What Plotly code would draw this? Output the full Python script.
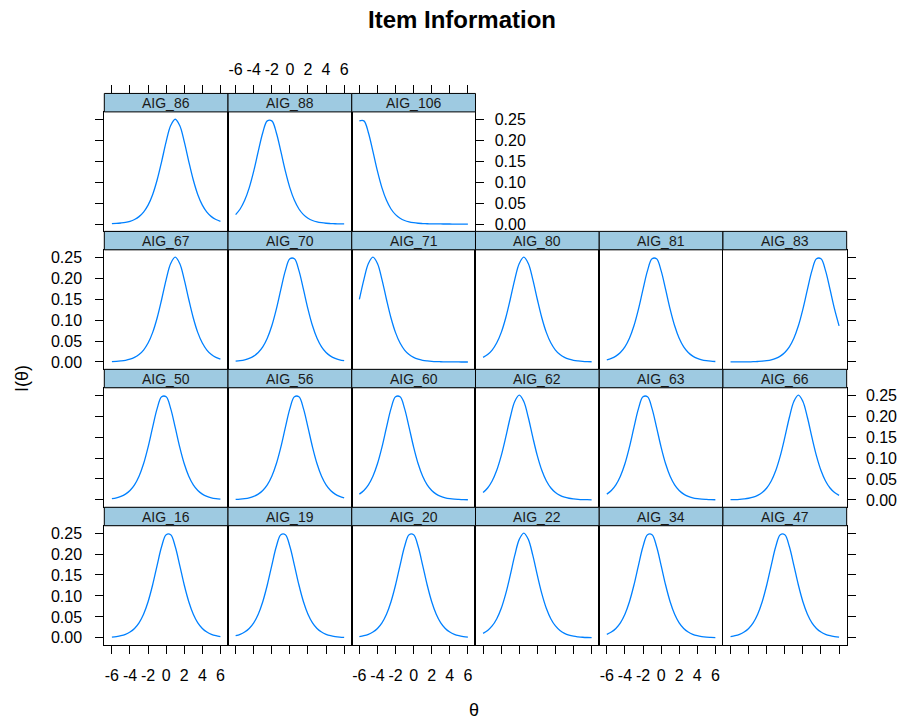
import plotly.graph_objects as go

# ---------------- data ----------------
theta = [-6, -5.5, -5, -4.5, -4, -3.5, -3, -2.5, -2, -1.5, -1, -0.5, 0,
         0.5, 1, 1.5, 2, 2.5, 3, 3.5, 4, 4.5, 5, 5.5, 6]

x_ticks = [-6, -4, -2, 0, 2, 4, 6]
y_ticks = [0.00, 0.05, 0.10, 0.15, 0.20, 0.25]

# item order as laid out (bottom row first, left to right)
items = ["AIG_16", "AIG_19", "AIG_20", "AIG_22", "AIG_34", "AIG_47",
         "AIG_50", "AIG_56", "AIG_60", "AIG_62", "AIG_63", "AIG_66",
         "AIG_67", "AIG_70", "AIG_71", "AIG_80", "AIG_81", "AIG_83",
         "AIG_86", "AIG_88", "AIG_106"]

info_16 = [.0019, .0032, .0052, .0085, .0139, .0225, .0359, .0565, .0863, .1261, .1731, .2179, .2461,
           .2461, .2179, .1731, .1261, .0863, .0565, .0359, .0225, .0139, .0085, .0052, .0032]
info_19 = [.0052, .0085, .0139, .0225, .0359, .0565, .0863, .1261, .1731, .2179, .2461, .2461, .2179,
           .1731, .1261, .0863, .0565, .0359, .0225, .0139, .0085, .0052, .0032, .0019, .0012]
info_20 = [.0032, .0052, .0085, .0139, .0225, .0359, .0565, .0863, .1261, .1731, .2179, .2461, .2461,
           .2179, .1731, .1261, .0863, .0565, .0359, .0225, .0139, .0085, .0052, .0032, .0019]
info_22 = [.0109, .0177, .0285, .0452, .0701, .1050, .1491, .1966, .2350, .2500, .2350, .1966, .1491,
           .1050, .0701, .0452, .0285, .0177, .0109, .0066, .0040, .0025, .0015, .0009, .0006]
info_34 = [.0085, .0139, .0225, .0359, .0565, .0863, .1261, .1731, .2179, .2461, .2461, .2179, .1731,
           .1261, .0863, .0565, .0359, .0225, .0139, .0085, .0052, .0032, .0019, .0012, .0007]
info_47 = [.0032, .0052, .0085, .0139, .0225, .0359, .0565, .0863, .1261, .1731, .2179, .2461, .2461,
           .2179, .1731, .1261, .0863, .0565, .0359, .0225, .0139, .0085, .0052, .0032, .0019]
info_50 = [.0032, .0052, .0085, .0139, .0225, .0359, .0565, .0863, .1261, .1731, .2179, .2461, .2461,
           .2179, .1731, .1261, .0863, .0565, .0359, .0225, .0139, .0085, .0052, .0032, .0019]
info_56 = [.0012, .0019, .0032, .0052, .0085, .0139, .0225, .0359, .0565, .0863, .1261, .1731, .2179,
           .2461, .2461, .2179, .1731, .1261, .0863, .0565, .0359, .0225, .0139, .0085, .0052]
info_60 = [.0139, .0225, .0359, .0565, .0863, .1261, .1731, .2179, .2461, .2461, .2179, .1731, .1261,
           .0863, .0565, .0359, .0225, .0139, .0085, .0052, .0032, .0019, .0012, .0007, .0004]
info_62 = [.0177, .0285, .0452, .0701, .1050, .1491, .1966, .2350, .2500, .2350, .1966, .1491, .1050,
           .0701, .0452, .0285, .0177, .0109, .0066, .0040, .0025, .0015, .0009, .0006, .0003]
info_63 = [.0139, .0225, .0359, .0565, .0863, .1261, .1731, .2179, .2461, .2461, .2179, .1731, .1261,
           .0863, .0565, .0359, .0225, .0139, .0085, .0052, .0032, .0019, .0012, .0007, .0004]
info_66 = [.0006, .0009, .0015, .0025, .0040, .0066, .0109, .0177, .0285, .0452, .0701, .1050, .1491,
           .1966, .2350, .2500, .2350, .1966, .1491, .1050, .0701, .0452, .0285, .0177, .0109]
info_67 = [.0009, .0015, .0025, .0040, .0066, .0109, .0177, .0285, .0452, .0701, .1050, .1491, .1966,
           .2350, .2500, .2350, .1966, .1491, .1050, .0701, .0452, .0285, .0177, .0109, .0066]
info_70 = [.0019, .0032, .0052, .0085, .0139, .0225, .0359, .0565, .0863, .1261, .1731, .2179, .2461,
           .2461, .2179, .1731, .1261, .0863, .0565, .0359, .0225, .0139, .0085, .0052, .0032]
info_71 = [.1491, .1966, .2350, .2500, .2350, .1966, .1491, .1050, .0701, .0452, .0285, .0177, .0109,
           .0066, .0040, .0025, .0015, .0009, .0006, .0003, .0002, .0001, .0001, .0000, .0000]
info_80 = [.0109, .0177, .0285, .0452, .0701, .1050, .1491, .1966, .2350, .2500, .2350, .1966, .1491,
           .1050, .0701, .0452, .0285, .0177, .0109, .0066, .0040, .0025, .0015, .0009, .0006]
info_81 = [.0052, .0085, .0139, .0225, .0359, .0565, .0863, .1261, .1731, .2179, .2461, .2461, .2179,
           .1731, .1261, .0863, .0565, .0359, .0225, .0139, .0085, .0052, .0032, .0019, .0012]
info_83 = [.0001, .0001, .0002, .0003, .0004, .0007, .0012, .0019, .0032, .0052, .0085, .0139, .0225,
           .0359, .0565, .0863, .1261, .1731, .2179, .2461, .2461, .2179, .1731, .1261, .0863]
info_86 = [.0009, .0015, .0025, .0040, .0066, .0109, .0177, .0285, .0452, .0701, .1050, .1491, .1966,
           .2350, .2500, .2350, .1966, .1491, .1050, .0701, .0452, .0285, .0177, .0109, .0066]
info_88 = [.0225, .0359, .0565, .0863, .1261, .1731, .2179, .2461, .2461, .2179, .1731, .1261, .0863,
           .0565, .0359, .0225, .0139, .0085, .0052, .0032, .0019, .0012, .0007, .0004, .0003]
info_106 = [.2461, .2461, .2179, .1731, .1261, .0863, .0565, .0359, .0225, .0139, .0085, .0052, .0032,
            .0019, .0012, .0007, .0004, .0003, .0002, .0001, .0001, .0000, .0000, .0000, .0000]

info = {
    "AIG_16": info_16, "AIG_19": info_19, "AIG_20": info_20, "AIG_22": info_22,
    "AIG_34": info_34, "AIG_47": info_47, "AIG_50": info_50, "AIG_56": info_56,
    "AIG_60": info_60, "AIG_62": info_62, "AIG_63": info_63, "AIG_66": info_66,
    "AIG_67": info_67, "AIG_70": info_70, "AIG_71": info_71, "AIG_80": info_80,
    "AIG_81": info_81, "AIG_83": info_83, "AIG_86": info_86, "AIG_88": info_88,
    "AIG_106": info_106,
}

# ---------------- layout geometry (pixels) ----------------
W, H = 903, 720
X0, COLW = 104.3, 123.73
Y0, ROWH, STRIPH = 92.7, 138.33, 18.5
NROWS, NCOLS = 4, 6
XR = [-6.84, 6.84]
YR = [-0.0175, 0.2675]
FONT = "Liberation Sans, Arial, sans-serif"
TICKFONT = dict(family=FONT, size=16, color="black")
LINECOL = "#0080FF"
STRIPCOL = "#9ECAE1"


def fx(p):
    return p / W


def fy(p):
    return 1 - p / H


fig = go.Figure()
layout = {}
shapes = []
annotations = []

n = len(items)
extra = n
for k, name in enumerate(items):
    r = k // NCOLS + 1          # 1 = bottom row
    c = k % NCOLS + 1
    i = k + 1
    xl = X0 + (c - 1) * COLW
    xr = xl + COLW
    top = Y0 + (NROWS - r) * ROWH
    ptop = top + STRIPH
    pbot = top + ROWH

    xa = dict(domain=[fx(xl), fx(xr)], range=XR, anchor=f"y{i}",
              showline=True, mirror=True, linecolor="black", linewidth=1,
              showgrid=False, zeroline=False, ticks="", showticklabels=False,
              fixedrange=True)
    ya = dict(domain=[fy(pbot), fy(ptop)], range=YR, anchor=f"x{i}",
              showline=True, mirror=True, linecolor="black", linewidth=1,
              showgrid=False, zeroline=False, ticks="", showticklabels=False,
              fixedrange=True)

    if r == 1:
        xa.update(ticks="outside", ticklen=8, tickwidth=1, tickcolor="black",
                  tickmode="array", tickvals=x_ticks,
                  ticktext=[str(v) for v in x_ticks],
                  showticklabels=(c % 2 == 1), tickangle=0,
                  tickfont=TICKFONT, ticklabelstandoff=8)
    is_left = (c == 1)
    is_right = (c == NCOLS) or (k == n - 1)
    if is_left:
        ya.update(side="left", ticks="outside", ticklen=8, tickwidth=1,
                  tickcolor="black", tickmode="array", tickvals=y_ticks,
                  ticktext=[f"{v:.2f}" for v in y_ticks],
                  showticklabels=(r % 2 == 1), tickfont=TICKFONT,
                  ticklabelstandoff=10)
    if is_right:
        ya.update(side="right", ticks="outside", ticklen=8, tickwidth=1,
                  tickcolor="black", tickmode="array", tickvals=y_ticks,
                  ticktext=[f"{v:.2f}" for v in y_ticks],
                  showticklabels=(r % 2 == 0), tickfont=TICKFONT,
                  ticklabelstandoff=7)

    layout[f"xaxis{i}"] = xa
    layout[f"yaxis{i}"] = ya

    fig.add_trace(go.Scatter(x=theta, y=info[name], mode="lines",
                             line=dict(color=LINECOL, width=1.3, shape="spline"),
                             xaxis=f"x{i}", yaxis=f"y{i}", showlegend=False,
                             hoverinfo="skip"))

    # top axis (above the strip) for the top row
    if r == NROWS:
        extra += 1
        layout[f"xaxis{extra}"] = dict(
            domain=[fx(xl), fx(xr)], range=XR, overlaying=f"x{i}",
            anchor="free", position=fy(top), side="top", showline=False,
            showgrid=False, zeroline=False, ticks="outside", ticklen=8,
            tickwidth=1, tickcolor="black", tickmode="array",
            tickvals=x_ticks, ticktext=[str(v) for v in x_ticks],
            showticklabels=(c % 2 == 0), tickangle=0, tickfont=TICKFONT,
            ticklabelstandoff=4, fixedrange=True)
        fig.add_trace(go.Scatter(x=[None], y=[None], mode="lines",
                                 xaxis=f"x{extra}", yaxis=f"y{i}",
                                 showlegend=False, hoverinfo="skip"))

    # strip
    shapes.append(dict(type="rect", xref="paper", yref="paper",
                       x0=fx(xl), x1=fx(xr), y0=fy(ptop), y1=fy(top),
                       fillcolor=STRIPCOL, line=dict(color="black", width=1),
                       layer="above"))
    annotations.append(dict(text=name, xref="paper", yref="paper",
                            x=fx((xl + xr) / 2), y=fy(top + STRIPH / 2),
                            xanchor="center", yanchor="middle", showarrow=False,
                            font=dict(family=FONT, size=14, color="#1a1a1a")))

annotations.append(dict(text="<b>Item Information</b>", xref="paper", yref="paper",
                        x=fx(462), y=fy(19), xanchor="center", yanchor="middle",
                        showarrow=False, font=dict(family=FONT, size=24, color="black")))
annotations.append(dict(text="θ", xref="paper", yref="paper",
                        x=fx(474), y=fy(711), xanchor="center", yanchor="middle",
                        showarrow=False, font=dict(family=FONT, size=18, color="black")))
annotations.append(dict(text="I(θ)", xref="paper", yref="paper",
                        x=fx(22), y=fy(379), xanchor="center", yanchor="middle",
                        textangle=-90, showarrow=False,
                        font=dict(family=FONT, size=18, color="black")))

fig.update_layout(width=W, height=H, autosize=False,
                  margin=dict(l=0, r=0, t=0, b=0),
                  paper_bgcolor="white", plot_bgcolor="white",
                  shapes=shapes, annotations=annotations, **layout)

fig.write_html("out.html",
               config={"displayModeBar": False, "staticPlot": True},
               post_script="document.body.style.margin='0px';"
                           "document.body.style.padding='0px';")
